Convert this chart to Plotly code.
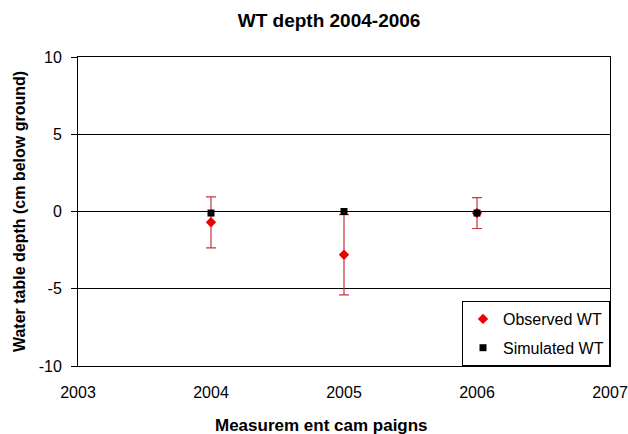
import plotly.graph_objects as go

years = [2004, 2005, 2006]
observed = [-0.7, -2.8, -0.1]
observed_err = [1.65, 2.6, 1.0]
simulated = [-0.1, 0.0, -0.1]

x_ticks = [2003, 2004, 2005, 2006, 2007]
y_ticks = [-10, -5, 0, 5, 10]
y_tick_labels = ["-10", "-5", "0", "5", "10"]

fig = go.Figure()
fig.add_trace(go.Scatter(
    x=years, y=observed, mode="markers", name="Observed WT", legendgroup="obs",
    marker=dict(symbol="diamond", color="#ee0000", size=8),
    error_y=dict(type="data", array=observed_err, visible=True,
                 color="#cc3344", thickness=1.2, width=5),
))
fig.add_trace(go.Scatter(
    x=years, y=simulated, mode="markers", name="Simulated WT", legendgroup="sim",
    marker=dict(symbol="square", color="black", size=7),
))

fig.update_layout(
    width=628, height=434,
    paper_bgcolor="white", plot_bgcolor="white",
    margin=dict(l=78, r=18, t=57, b=68, autoexpand=False),
    font=dict(family="Liberation Sans, Arial, sans-serif", color="black", size=16),
    title=dict(text="<b>WT depth 2004-2006</b>", x=0.524, xref="container",
               xanchor="center", y=0.954, yanchor="middle", font=dict(size=19)),
    xaxis=dict(range=[2003, 2007], tickvals=x_ticks, automargin=False,
               showgrid=False, zeroline=False, showline=True, linecolor="black",
               mirror=True, linewidth=1, ticks="outside", ticklen=12,
               tickcolor="rgba(0,0,0,0)",
               tickfont=dict(size=16)),
    yaxis=dict(range=[-10, 10], tickvals=y_ticks, ticktext=y_tick_labels,
               automargin=False,
               showgrid=True, gridcolor="black", gridwidth=1,
               zeroline=False, showline=True, linecolor="black", mirror=True,
               linewidth=1, ticks="outside", ticklen=6, tickcolor="black",
               ticklabelstandoff=6,
               tickfont=dict(size=16),
               title=dict(text="<b>Water table depth (cm below ground)</b>",
                          standoff=9, font=dict(size=16))),
    legend=dict(x=1.0, xanchor="right", y=0, yanchor="bottom",
                bordercolor="black", borderwidth=1, bgcolor="white",
                font=dict(size=16), tracegroupgap=5, itemwidth=30),
    showlegend=True,
    annotations=[dict(text="<b>Measurem ent cam paigns</b>", xref="paper", yref="paper",
                      x=0.457, y=0, xanchor="center", yanchor="middle", yshift=-59,
                      showarrow=False, font=dict(size=17))],
)

fig.write_html("out.html", config={"displayModeBar": False},
               post_script="document.body.style.margin='0';document.body.style.overflow='hidden';")
